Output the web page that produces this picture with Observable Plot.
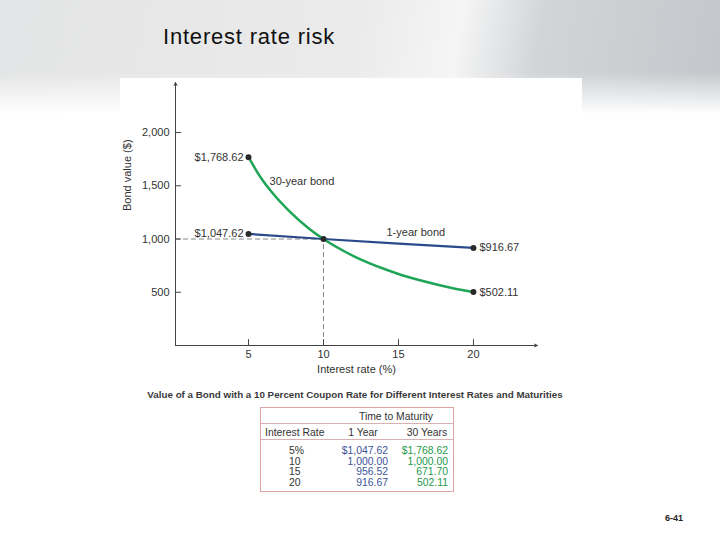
<!DOCTYPE html>
<html>
<head>
<meta charset="utf-8">
<script src="https://cdn.jsdelivr.net/npm/d3@7"></script>
<script src="https://cdn.jsdelivr.net/npm/@observablehq/plot@0.6"></script>
<style>
  html, body { margin: 0; padding: 0; }
  body {
    width: 720px; height: 540px; position: relative; overflow: hidden;
    font-family: "Liberation Sans", Arial, sans-serif;
    background:
      linear-gradient(to bottom, rgba(255,255,255,0) 0px, rgba(255,255,255,0) 72px, rgba(255,255,255,1) 114px),
      linear-gradient(100deg, #e3e4e5 0%, #ebebeb 45%, #f5f5f5 57%, #d2d5d8 67%, #bdc1c5 100%);
  }
  #title { position: absolute; left: 163px; top: 26px; font-size: 22px; line-height: 22px; color: #111; letter-spacing: 0.8px; }
  #chart { position: absolute; left: 120px; top: 78px; }
  #caption { position: absolute; left: 120px; width: 470px; top: 389px; text-align: center;
    font-size: 9.8px; font-weight: bold; color: #3a3a3a; white-space: nowrap; }
  #table { position: absolute; left: 260px; top: 407px; width: 192px; height: 83px;
    border: 1px solid #e0a3a3; background: #fff; }
  .hl { position: absolute; left: 0; width: 192px; height: 0; border-top: 1px solid #d8b2b2; }
  .cell { position: absolute; font-size: 10.4px; line-height: 12px; white-space: nowrap; color: #333; }
  #slide { position: absolute; left: 665px; top: 513px; font-size: 9px; font-weight: bold; color: #222; }
</style>
</head>
<body>
<div id="title">Interest rate risk</div>
<div id="chart"></div>
<div id="caption">Value of a Bond with a 10 Percent Coupon Rate for Different Interest Rates and Maturities</div>
<div id="table"></div>
<div id="slide">6-41</div>
<script>
// ---- data (table values) ----
const rates = [5, 10, 15, 20];
const oneYear = [1047.62, 1000.00, 956.52, 916.67];
const thirtyYear = [1768.62, 1000.00, 671.70, 502.11];
// ---- curve points ----
const curveRates1 = [5, 10, 15, 20];
const curveValues1 = [1047.62, 1000.00, 956.52, 916.67];
const curveRates30 = [5, 5.8, 6.6, 7.7, 9.0, 10, 12, 14.2, 15, 16.5, 18.7, 20];
const curveValues30 = [1768.62, 1580, 1432, 1265, 1102, 1000, 840, 711, 671.70, 610, 536, 502.11];
const xTicks = [5, 10, 15, 20];
const yTicks = [500, 1000, 1500, 2000];
const seriesNames = ["1-year bond", "30-year bond"];
const tableTitle = "Time to Maturity";
const tableHeaders = ["Interest Rate", "1 Year", "30 Years"];

const green = "#1fa556";
const blue = "#2b4a8b";
const ink = "#333";
const xMin = 0.13, xMax = 24.27, yMax = 2470;

const d1 = rates.map((r, i) => ({rate: r, value: oneYear[i]}));
const d30 = rates.map((r, i) => ({rate: r, value: thirtyYear[i]}));
const c1 = curveRates1.map((r, i) => ({rate: r, value: curveValues1[i]}));
const c30 = curveRates30.map((r, i) => ({rate: r, value: curveValues30[i]}));
const ends = [d1[0], d30[0]];
const endsR = [d1[3], d30[3]];
const money = d3.format("$,.2f");

const chart = Plot.plot({
  width: 462, height: 307,
  marginLeft: 55, marginRight: 45, marginTop: 4, marginBottom: 40,
  style: {background: "#fff", fontFamily: "Liberation Sans, Arial, sans-serif", color: ink},
  x: {domain: [xMin, xMax], axis: null},
  y: {domain: [0, yMax], axis: null},
  marks: [
    // guides
    Plot.ruleY([1000], {x1: xMin, x2: 10, stroke: "#8a8a8a", strokeDasharray: "5,3"}),
    Plot.ruleX([10], {y1: 0, y2: 1000, stroke: "#8a8a8a", strokeDasharray: "5,3"}),
    // axes with arrows
    Plot.arrow([{x1: xMin, y1: 0, x2: xMax, y2: 0}, {x1: xMin, y1: 0, x2: xMin, y2: yMax}],
      {x1: "x1", y1: "y1", x2: "x2", y2: "y2", stroke: "#444", strokeWidth: 1, headLength: 5, headAngle: 50}),
    // ticks (inward)
    Plot.ruleX(xTicks, {y1: 0, y2: 55, stroke: "#444"}),
    Plot.ruleY(yTicks, {x1: xMin, x2: xMin + 0.4, stroke: "#444"}),
    Plot.axisX(xTicks, {tickSize: 0, tickPadding: 5, fontSize: 11, label: null, color: ink}),
    Plot.axisY(yTicks, {tickSize: 0, tickPadding: 6, fontSize: 11, label: null, tickFormat: d3.format(","), color: ink}),
    Plot.text(["Bond value ($)"], {frameAnchor: "left", rotate: -90, dx: -48, dy: -3, fontSize: 11, fill: ink}),
    Plot.text(["Interest rate (%)"], {frameAnchor: "bottom", dy: 27, fontSize: 11, fill: ink}),
    // curves
    Plot.line(c1, {x: "rate", y: "value", curve: "monotone-x", stroke: blue, strokeWidth: 2.2}),
    Plot.line(c30, {x: "rate", y: "value", curve: "monotone-x", stroke: green, strokeWidth: 2.5}),
    // dots
    Plot.dot([...ends, ...endsR, {rate: 10, value: 1000}], {x: "rate", y: "value", r: 3, fill: "#2a2a2a"}),
    // value labels
    Plot.text(ends, {x: "rate", y: "value", text: d => money(d.value), textAnchor: "end", dx: -5, fontSize: 11, fill: ink}),
    Plot.text(endsR, {x: "rate", y: "value", text: d => money(d.value), textAnchor: "start", dx: 6, fontSize: 11, fill: ink}),
    // series labels
    Plot.text([{x: 14.2, y: 1061, t: seriesNames[0]}, {x: 6.4, y: 1545, t: seriesNames[1]}],
      {x: "x", y: "y", text: "t", textAnchor: "start", fontSize: 11, fill: ink})
  ]
});
document.getElementById("chart").appendChild(chart);

// ---- table ----
const tb = document.getElementById("table");
const ox = 260, oy = 407;
function cell(text, x, yc, align, color) {
  const el = document.createElement("div");
  el.className = "cell";
  el.textContent = text;
  el.style.top = (yc - oy - 6) + "px";
  if (align === "left") el.style.left = (x - ox) + "px";
  else if (align === "right") el.style.right = (ox + 193 - x) + "px";
  else { el.style.left = (x - ox - 60) + "px"; el.style.width = "120px"; el.style.textAlign = "center"; }
  if (color) el.style.color = color;
  tb.appendChild(el);
}
[423, 439].forEach(y => {
  const l = document.createElement("div");
  l.className = "hl"; l.style.top = (y - oy - 1) + "px"; tb.appendChild(l);
});
cell(tableTitle, 395, 416, "center");
cell(tableHeaders[0], 264, 432, "left");
cell(tableHeaders[1], 362, 432, "center");
cell(tableHeaders[2], 426, 432, "center");
const rowY = [450, 461, 471, 482];
const num = d3.format(",.2f");
rates.forEach((r, i) => {
  cell(i === 0 ? r + "%" : String(r), 288, rowY[i], "left");
  cell((i === 0 ? "$" : "") + num(oneYear[i]), 388, rowY[i], "right", "#3b539c");
  cell((i === 0 ? "$" : "") + num(thirtyYear[i]), 448, rowY[i], "right", "#24994a");
});
</script>
</body>
</html>
